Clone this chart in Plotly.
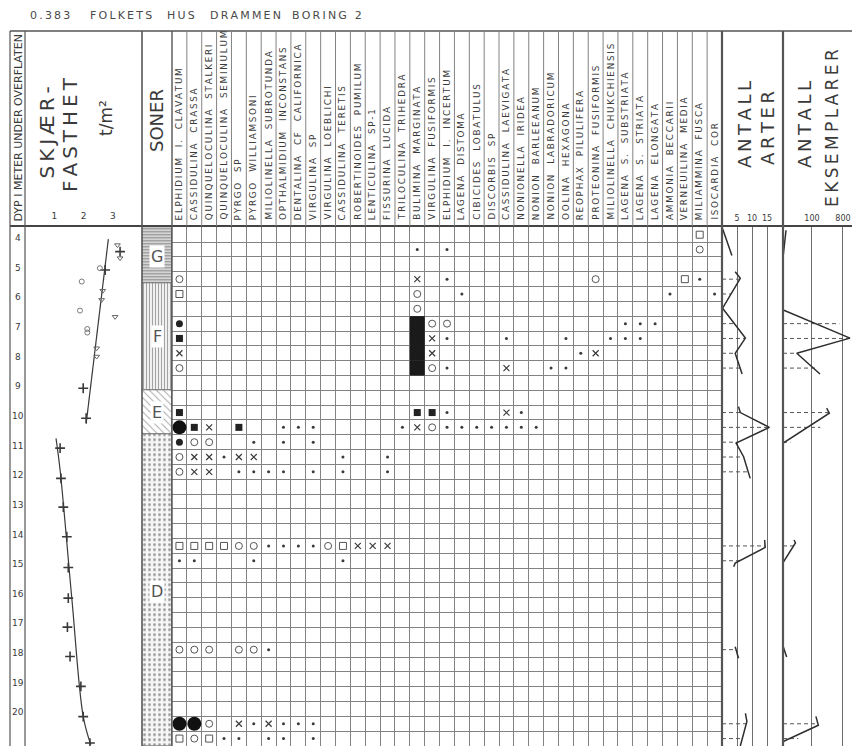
import plotly.graph_objects as go
import numpy as np

W, H = 852, 746
GRID_TOP = 227.3          # pixel row where the sample grid starts
DEPTH_RANGE = [21.0, 3.5]  # depth (m) at bottom / top of the grid

def px(x):
    return x / W

def py(y):
    return 1 - y / H

# ---------------------------------------------------------------- data
title_words = ["0.383", "FOLKETS", "HUS", "DRAMMEN", "BORING 2"]

species = [
    "ELPHIDIUM  I.  CLAVATUM", "CASSIDULINA  CRASSA", "QUINQUELOCULINA  STALKERI",
    "QUINQUELOCULINA  SEMINULUM", "PYRGO  SP", "PYRGO  WILLIAMSONI",
    "MILIOLINELLA  SUBROTUNDA", "OPTHALMIDIUM  INCONSTANS", "DENTALINA  CF  CALIFORNICA",
    "VIRGULINA  SP", "VIRGULINA  LOEBLICHI", "CASSIDULINA  TERETIS",
    "ROBERTINOIDES  PUMILUM", "LENTICULINA  SP-1", "FISSURINA  LUCIDA",
    "TRILOCULINA  TRIHEDRA", "BULIMINA  MARGINATA", "VIRGULINA  FUSIFORMIS",
    "ELPHIDIUM  I.  INCERTUM", "LAGENA  DISTOMA", "CIBICIDES  LOBATULUS",
    "DISCORBIS  SP", "CASSIDULINA  LAEVIGATA", "NONIONELLA  IRIDEA",
    "NONION  BARLEEANUM", "NONION  LABRADORICUM", "OOLINA  HEXAGONA",
    "REOPHAX  PILULIFERA", "PROTEONINA  FUSIFORMIS", "MILIOLINELLA  CHUKCHIENSIS",
    "LAGENA  S.  SUBSTRIATA", "LAGENA  S.  STRIATA", "LAGENA  ELONGATA",
    "AMMONIA  BECCARII", "VERNEUILINA  MEDIA", "MILIAMMINA  FUSCA", "ISOCARDIA  COR",
]

depth_ticks = list(range(4, 21))

zone_names = ["G", "F", "E", "D"]
zone_top = [3.5, 5.4, 9.0, 10.5]
zone_bottom = [5.4, 9.0, 10.5, 21.0]
zone_label_depth = [4.5, 7.2, 9.75, 15.8]

# shear strength (t/m2)
shear_line1_x = [2.85, 2.09]
shear_line1_d = [3.90, 10.13]
shear_line2_x = [1.06, 1.20, 1.60, 1.99, 2.25]
shear_line2_d = [10.62, 11.69, 16.01, 20.0, 20.96]
shear_plus_x = [3.25, 2.74, 1.99, 2.09, 1.20, 1.23, 1.31, 1.43, 1.48, 1.48, 1.45, 1.54, 1.91, 1.99, 2.22]
shear_plus_d = [4.32, 4.94, 8.93, 9.94, 10.95, 11.97, 12.94, 13.94, 14.98, 16.01, 16.99, 17.98, 18.99, 20.01, 20.9]
shear_tri_x = [3.16, 3.25, 2.66, 2.62, 3.08, 2.45, 2.45]
shear_tri_d = [4.10, 4.54, 5.64, 5.95, 6.52, 7.58, 7.86]
shear_circ_x = [2.56, 1.94, 1.88, 2.13, 2.13]
shear_circ_d = [4.88, 5.33, 6.31, 6.93, 7.05]

# foraminifera occurrences: sample depth and "columnCode" entries
# D dot, X cross, O open circle, S open square, F filled circle,
# Q filled square, B large filled circle, K dominant (block)
sample_depth = [3.75, 4.25, 5.25, 5.75, 6.25, 6.75, 7.25, 7.75, 8.25, 9.75, 10.25,
                10.75, 11.25, 11.75, 14.25, 14.75, 17.75, 20.25, 20.75]
sample_taxa = [
    "35S",
    "16D 18D 35O",
    "0O 16X 18D 28O 34S 35D",
    "0S 16O 19D 33D 36D",
    "16O",
    "0F 16K 17O 18O 30D 31D 32D",
    "0Q 16K 17X 18D 22D 26D 29D 30D 31D",
    "0X 16K 17X 27D 28X",
    "0O 16K 17O 18D 22X 25D 26D",
    "0Q 16Q 17Q 18D 22X 23D",
    "0B 1Q 2X 4Q 7D 8D 9D 15D 16X 17O 18D 19D 20D 21D 22D 23D 24D",
    "0F 1O 2O 5D 7D 9D",
    "0O 1X 2X 3D 4X 5X 11D 14D",
    "0O 1X 2X 4D 5D 6D 7D 9D 11D 14D",
    "0S 1S 2S 3S 4O 5O 6D 7D 8D 9D 10O 11S 12X 13X 14X",
    "0D 1D 5D 11D",
    "0O 1O 2O 4O 5O 6D",
    "0B 1B 2O 4X 5D 6X 7D 8D 9D",
    "0S 1O 2S 3D 4D 6D 7D 9D",
]

# number of species (curve vertices)
arter_depth = [[3.55, 4.45], [5.0, 5.22, 6.23, 7.24, 7.75, 8.45],
               [9.55, 9.75, 10.25, 10.78, 11.24, 11.97], [14.05, 14.3, 14.83, 14.95],
               [17.65, 18.04], [19.9, 20.17, 21.0]]
arter_val = [[0.2, 3.3], [4.4, 6.1, 0.2, 7.8, 4.4, 6.7],
             [5.5, 6.1, 15.8, 4.7, 7.2, 9.4], [14.2, 14.4, 4.4, 3.9],
             [4.4, 5.5], [7.8, 8.3, 6.1]]
arter_ticks = [5, 10, 15]

# number of specimens
eks_depth = [[3.6, 4.45], [5.05, 6.29, 7.24, 7.75, 8.45], [9.6, 9.77, 10.78, 11.97],
             [14.05, 14.15, 14.8], [17.65, 18.0], [20.0, 20.3, 20.85, 21.0]]
eks_val = [[17.5, 14.5], [14.5, 14.5, 1280, 36, 171], [268, 320, 14.5, 14.5],
           [30, 33, 14.5], [14.5, 18.3], [130, 153, 14.5, 14.5]]
eks_ticks = [100, 800]
eks_ticktext = ["100", "800"]

# ---------------------------------------------------------------- helpers
INK = "#3a3a3a"
GRID = "#838383"
FONT = "DejaVu Sans"

def spaced(s):
    return "\u2009".join(s).replace(" ", "\u00a0")

def joined(groups):
    out = []
    for g in groups:
        out.extend(g)
        out.append(None)
    return out

fig = go.Figure()

# depth column dummy trace (so the axis pair exists)
fig.add_trace(go.Scatter(x=[0.5] * len(depth_ticks), y=depth_ticks, mode="markers",
                         marker=dict(size=1, color="rgba(0,0,0,0)"),
                         xaxis="x", yaxis="y", hoverinfo="skip", showlegend=False))

# shear strength
fig.add_trace(go.Scatter(x=shear_line1_x, y=shear_line1_d, mode="lines",
                         line=dict(color=INK, width=1.2), xaxis="x2", yaxis="y2", showlegend=False))
fig.add_trace(go.Scatter(x=shear_line2_x, y=shear_line2_d, mode="lines", line_shape="spline",
                         line=dict(color=INK, width=1.2), xaxis="x2", yaxis="y2", showlegend=False))
fig.add_trace(go.Scatter(x=shear_plus_x, y=shear_plus_d, mode="markers",
                         marker=dict(symbol="cross-thin-open", size=7, color=INK,
                                     line=dict(color=INK, width=1.6)),
                         xaxis="x2", yaxis="y2", showlegend=False))
fig.add_trace(go.Scatter(x=shear_tri_x, y=shear_tri_d, mode="markers",
                         marker=dict(symbol="triangle-down-open", size=5, color="#666",
                                     line=dict(color="#666", width=1)),
                         xaxis="x2", yaxis="y2", showlegend=False))
fig.add_trace(go.Scatter(x=shear_circ_x, y=shear_circ_d, mode="markers",
                         marker=dict(symbol="circle-open", size=5, color="#777",
                                     line=dict(color="#777", width=1)),
                         xaxis="x2", yaxis="y2", showlegend=False))

# zones
fig.add_trace(go.Bar(
    x=[0] * len(zone_names), y=[b - t for t, b in zip(zone_top, zone_bottom)], base=zone_top,
    width=1, xaxis="x3", yaxis="y3", showlegend=False, hoverinfo="skip",
    marker=dict(color=["#d4d4d4", "#f0f0f0", "#ffffff", "#f6f6f6"],
                line=dict(color="#777", width=1),
                pattern=dict(shape=["-", "|", "\\", "."],
                             fgcolor=["#8a8a8a", "#b0b0b0", "#8a8a8a", "#a0a0a0"],
                             bgcolor=["#dcdcdc", "#f2f2f2", "#ffffff", "#f7f7f7"],
                             size=[3, 3, 5, 5], solidity=[0.35, 0.3, 0.18, 0.25])),
))

# occurrences
styles = {
    "D": dict(symbol="circle", size=3, color=INK),
    "X": dict(symbol="x-thin-open", size=6, color=INK, line=dict(color=INK, width=1.2)),
    "O": dict(symbol="circle-open", size=7, color="#555", line=dict(color="#555", width=1)),
    "S": dict(symbol="square-open", size=7, color="#555", line=dict(color="#555", width=1)),
    "F": dict(symbol="circle", size=7, color="#222"),
    "Q": dict(symbol="square", size=7, color="#222"),
    "B": dict(symbol="circle", size=14, color="#111"),
    "K": dict(symbol="square", size=15, color="#1a1a1a"),
}
pts = {k: ([], []) for k in styles}
for d, entry in zip(sample_depth, sample_taxa):
    for tok in entry.split():
        col, code = int(tok[:-1]), tok[-1]
        pts[code][0].append(col + 0.5)
        pts[code][1].append(d)
for code, (xs, ys) in pts.items():
    st = dict(styles[code])
    if "line" not in st:
        st["line"] = dict(width=0)
    fig.add_trace(go.Scatter(x=xs, y=ys, mode="markers", marker=st,
                             xaxis="x4", yaxis="y4", showlegend=False, hoverinfo="skip"))

# dashed sample lines + curves
dash_depths = sample_depth[2:]

def dash_segments(groups_d, groups_v, left):
    xs, ys = [], []
    for d in dash_depths:
        for gd, gv in zip(groups_d, groups_v):
            if gd[0] <= d <= gd[-1]:
                v = float(np.interp(d, gd, gv))
                xs += [left, v, None]
                ys += [d, d, None]
                break
    return xs, ys

ax, ay = dash_segments(arter_depth, arter_val, 0)
fig.add_trace(go.Scatter(x=ax, y=ay, mode="lines", line=dict(color="#555", width=1, dash="4px,3px"),
                         xaxis="x5", yaxis="y5", showlegend=False, hoverinfo="skip"))
fig.add_trace(go.Scatter(x=joined(arter_val), y=joined(arter_depth), mode="lines",
                         line=dict(color="#2e2e2e", width=1.5), xaxis="x5", yaxis="y5",
                         showlegend=False))
ex, ey = dash_segments(eks_depth, eks_val, 14.3)
fig.add_trace(go.Scatter(x=ex, y=ey, mode="lines", line=dict(color="#555", width=1, dash="4px,3px"),
                         xaxis="x6", yaxis="y6", showlegend=False, hoverinfo="skip"))
fig.add_trace(go.Scatter(x=joined(eks_val), y=joined(eks_depth), mode="lines",
                         line=dict(color="#2e2e2e", width=1.5), xaxis="x6", yaxis="y6",
                         showlegend=False))

# ---------------------------------------------------------------- axes
ydom = [0, py(GRID_TOP)]
hidden = dict(showgrid=False, zeroline=False, showticklabels=False, showline=False, ticks="",
              fixedrange=True)

def yax(anchor, **kw):
    d = dict(hidden, domain=ydom, range=DEPTH_RANGE, anchor=anchor)
    d.update(kw)
    return d

tickfont = dict(family=FONT, size=8, color=INK)
layout = dict(
    width=W, height=H, margin=dict(l=0, r=0, t=0, b=0), autosize=False,
    paper_bgcolor="white", plot_bgcolor="white", showlegend=False, bargap=0,
    xaxis=dict(hidden, domain=[px(10), px(25)], range=[0, 1], anchor="y"),
    yaxis=yax("x"),
    xaxis2=dict(hidden, domain=[px(25), px(142)], range=[0, 4], anchor="y2", side="top",
                showticklabels=True, tickvals=[1, 2, 3], ticklabelstandoff=6,
                tickfont=dict(family=FONT, size=9, color=INK)),
    yaxis2=yax("x2"),
    xaxis3=dict(hidden, domain=[px(142), px(172)], range=[-0.5, 0.5], anchor="y3"),
    yaxis3=yax("x3"),
    xaxis4=dict(hidden, domain=[px(172), px(722)], range=[0, 37], anchor="y4",
                showgrid=True, tick0=0, dtick=1, gridcolor=GRID, gridwidth=1),
    yaxis4=yax("x4", showgrid=True, tick0=3.5, dtick=0.5, gridcolor=GRID, gridwidth=1),
    xaxis5=dict(hidden, domain=[px(722), px(783)], range=[0, 20.33], anchor="y5", side="top",
                showticklabels=True, tickvals=arter_ticks, tickfont=tickfont, ticklabelstandoff=4,
                showgrid=True, gridcolor="#6e6e6e", gridwidth=1),
    yaxis5=yax("x5"),
    xaxis6=dict(hidden, domain=[px(783), 1], type="log", range=[1.155, 3.166], anchor="y6",
                side="top", showticklabels=True, tickvals=eks_ticks, ticktext=eks_ticktext,
                tickfont=tickfont, ticklabelstandoff=4,
                showgrid=True, gridcolor="#6e6e6e", gridwidth=1),
    yaxis6=yax("x6"),
)

# ---------------------------------------------------------------- frame
shapes = []
def pline(x0, y0, x1, y1, w=1, c="#555"):
    shapes.append(dict(type="line", xref="paper", yref="paper", x0=px(x0), y0=py(y0),
                       x1=px(x1), y1=py(y1), line=dict(color=c, width=w)))

pline(10, 31, W, 31, 1.5, "#555")
pline(10, 226, W, 226, 2.2, "#444")
for xv, w in [(10, 1.2), (25, 1.2), (142, 1.6), (172, 1.4), (722, 2.2), (783, 2.2)]:
    pline(xv, 31, xv, H, w, "#555")
for i in range(1, len(species)):
    shapes.append(dict(type="line", xref="x4", yref="paper", x0=i, x1=i, y0=py(31), y1=py(226),
                       line=dict(color=GRID, width=1)))
layout["shapes"] = shapes

# ---------------------------------------------------------------- texts
ann = []
for w, x0 in zip(title_words, [28, 88, 165, 208, 290]):
    ann.append(dict(text=spaced(w), x=px(x0), y=py(15), xref="paper", yref="paper",
                    xanchor="left", yanchor="middle", showarrow=False,
                    font=dict(family=FONT, size=11, color="#4a4a4a")))

def vtext(t, x, y, size, spacing=True):
    ann.append(dict(text=spaced(t) if spacing else t, x=px(x), y=py(y), xref="paper", yref="paper",
                    textangle=-90, xanchor="center", yanchor="middle", showarrow=False,
                    font=dict(family=FONT, size=size, color=INK)))

vtext("DYP I METER UNDER OVERFLATEN", 17.5, 128, 11, spacing=False)
vtext("SKJÆR-", 46.5, 133, 20)
vtext("FASTHET", 70, 135, 20)
vtext("t/m²", 106, 118, 17, spacing=False)
vtext("SONER", 156, 121, 18, spacing=False)
vtext("ANTALL", 744, 125, 18)
vtext("ARTER", 767, 128, 18)
vtext("ANTALL", 804, 125, 18)
vtext("EKSEMPLARER", 832, 128, 17)

for i, name in enumerate(species):
    ann.append(dict(text=spaced(name), x=i + 0.5, y=py(222), xref="x4", yref="paper",
                    textangle=-90, xanchor="center", yanchor="bottom", showarrow=False,
                    font=dict(family=FONT, size=8.8, color=INK)))

for d in depth_ticks:
    ann.append(dict(text=str(d), x=0.5, y=d, xref="x", yref="y", yshift=4, showarrow=False,
                    font=dict(family=FONT, size=9, color=INK)))

for z, d in zip(zone_names, zone_label_depth):
    ann.append(dict(text=z, x=0, y=d, xref="x3", yref="y3", showarrow=False,
                    bgcolor="white", borderpad=1,
                    font=dict(family=FONT, size=16, color="#555")))

layout["annotations"] = ann
fig.update_layout(**layout)
fig.write_html("out.html", config={"displayModeBar": False},
               post_script="document.body.style.margin='0';document.body.style.overflow='hidden';")
